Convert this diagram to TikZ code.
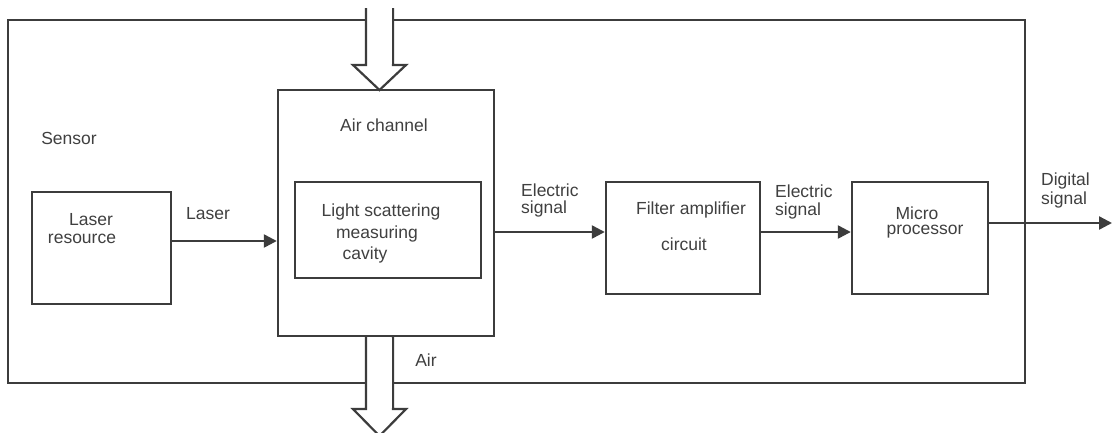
\documentclass[tikz,border=0pt]{standalone}
\usepackage{fontspec}
\setmainfont{Liberation Sans}
\usetikzlibrary{arrows.meta}
\definecolor{ln}{HTML}{3C3C3C}
\definecolor{tx}{HTML}{404040}
\begin{document}
\begin{tikzpicture}[x=1pt,y=-1pt,
  blk/.style={draw=ln,line width=2.4pt,rectangle,inner sep=0pt,fill=white},
  lbl/.style={text=tx,inner sep=0pt,font=\fontsize{17.5}{21}\selectfont},
  sig/.style={draw=ln,line width=2.4pt,-{Triangle[length=13pt,width=13pt]}},
  bigarrow/.style={draw=ln,line width=2.2pt,fill=white,line join=miter}]
\useasboundingbox (0,0) rectangle (1112,432);
\fill[white] (0,0) rectangle (1112,432);
% outer sensor frame
\node[blk,fill=none,minimum width=1017pt,minimum height=363pt] (frame) at (516.5,201.5) {};
% blocks
\node[blk,minimum width=216pt,minimum height=246pt] (air) at (386,213) {};
\node[blk,minimum width=186pt,minimum height=96pt] (cav) at (388,230) {};
\node[blk,minimum width=139pt,minimum height=112pt] (las) at (101.5,248) {};
\node[blk,minimum width=154pt,minimum height=112pt] (fil) at (683,238) {};
\node[blk,minimum width=136pt,minimum height=112pt] (mic) at (920,238) {};
% block arrows (air in / out)
\draw[bigarrow] (366,8) -- (366,65) -- (353,65) -- (379.5,90) -- (406,65) -- (393,65) -- (393,8);
\fill[white] (367.5,8) rectangle (391.5,64);
\draw[bigarrow] (366,337) -- (366,409) -- (353,409) -- (379.5,436) -- (406,409) -- (393,409) -- (393,337);
\fill[white] (367.5,338) rectangle (391.5,408);
% labels
\node[lbl] (tsensor) at (69,138) {Sensor};
\node[lbl] (tlas1) at (91,220) {Laser};
\node[lbl] (tlas2) at (82,239) {resource};
\node[lbl] (tlaser) at (208,214) {Laser};
\node[lbl] (tairch) at (384,125) {Air channel};
\node[lbl] (tcav1) at (381,212) {Light scattering};
\node[lbl] (tcav2) at (377,234) {measuring};
\node[lbl] (tcav3) at (365,255) {cavity};
\node[lbl,anchor=west] (te1a) at (521,190) {Electric};
\node[lbl,anchor=west] (te1b) at (521,209) {signal};
\node[lbl] (tfil1) at (691,210) {Filter amplifier};
\node[lbl] (tfil2) at (684,244) {circuit};
\node[lbl,anchor=west] (te2a) at (775,191) {Electric};
\node[lbl,anchor=west] (te2b) at (775,211) {signal};
\node[lbl] (tmic1) at (917,213) {Micro};
\node[lbl] (tmic2) at (925,232) {processor};
\node[lbl,anchor=west] (tdig1) at (1041,181) {Digital};
\node[lbl,anchor=west] (tdig2) at (1041,200) {signal};
\node[lbl] (tair) at (426,360) {Air};
% signal connectors
\coordinate (out) at (1112,223);
\draw[sig] (las.east |- 0,241) -- (air.west |- 0,241);
\draw[sig] (air.east |- 0,232) -- (fil.west |- 0,232);
\draw[sig] (fil.east |- 0,232) -- (mic.west |- 0,232);
\draw[sig] (mic.east |- out) -- (out);
\end{tikzpicture}
\end{document}
